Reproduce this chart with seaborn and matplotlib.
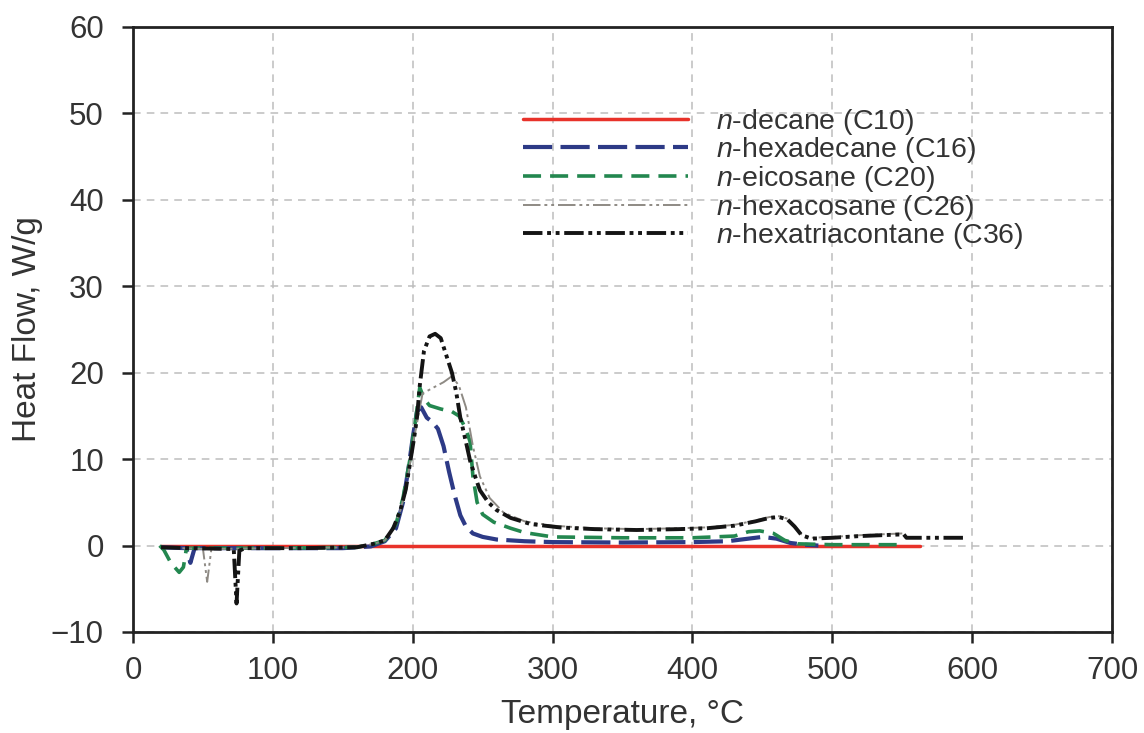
import numpy as np
import pandas as pd
import matplotlib
matplotlib.use("Agg")
import matplotlib.pyplot as plt
import seaborn as sns

# dati (temperatura in °C, flusso termico in W/g)
t_c10 = [20, 563]
h_c10 = [0, 0]

t_c16 = [20, 38, 41, 44, 100, 150, 170, 180, 188, 193, 197, 200, 203, 206, 210, 214, 218, 222, 226,
         230, 234, 238, 243, 250, 260, 280, 300, 350, 400, 425, 440, 450, 460, 470, 480, 490]
h_c16 = [-0.2, -0.3, -2.0, -0.3, -0.3, -0.3, -0.1, 0.5, 2.0, 5.0, 9.0, 12.5, 15.5, 16.0, 14.8, 14.3,
         13.5, 11.5, 8.5, 5.8, 3.5, 2.2, 1.4, 1.0, 0.7, 0.5, 0.4, 0.35, 0.4, 0.5, 0.8, 1.0, 0.8, 0.3,
         0.1, 0.0]

t_c20 = [19, 22, 27, 33, 36, 38, 40, 100, 160, 172, 180, 188, 193, 198, 202, 205, 208, 212, 220, 228,
         233, 238, 241, 243, 246, 250, 258, 270, 280, 300, 350, 400, 430, 440, 448, 458, 466, 475,
         500, 546]
h_c20 = [0.0, -0.5, -2.0, -3.1, -2.5, -0.5, -0.3, -0.3, -0.2, 0.2, 0.6, 2.5, 5.5, 10.0, 14.5, 18.3,
         17.0, 16.2, 15.8, 15.5, 15.0, 13.5, 12.0, 8.0, 5.0, 3.6, 2.7, 2.0, 1.5, 1.0, 0.9, 0.9, 1.1,
         1.6, 1.7, 1.4, 0.6, 0.2, 0.1, 0.1]

t_c26 = [20, 50, 53, 56, 100, 160, 172, 180, 186, 191, 195, 198, 201, 204, 207, 215, 222, 228, 233,
         238, 243, 248, 255, 265, 280, 300, 330, 360, 390, 410, 430, 445, 455, 462, 468, 473, 478,
         485, 500, 520, 550]
h_c26 = [-0.2, -0.4, -4.2, -0.4, -0.3, -0.2, 0.2, 0.6, 2.0, 4.0, 6.5, 9.5, 12.5, 15.0, 17.6, 18.3,
         18.9, 19.6, 18.5, 16.0, 11.5, 8.0, 5.5, 3.8, 2.8, 2.3, 2.0, 1.9, 2.0, 2.1, 2.4, 2.9, 3.3,
         3.4, 3.1, 2.3, 1.3, 0.9, 1.0, 1.2, 1.4]

t_c36 = [20, 40, 72, 74, 76, 80, 120, 160, 172, 180, 186, 191, 195, 198, 201, 203, 205, 208, 212,
         216, 220, 224, 228, 231, 234, 238, 241, 245, 248, 254, 260, 270, 284, 305, 330, 360, 390,
         410, 430, 445, 455, 462, 468, 473, 478, 485, 500, 520, 551, 553, 594]
h_c36 = [-0.2, -0.3, -0.4, -6.7, -0.6, -0.3, -0.3, -0.2, 0.2, 0.6, 2.0, 4.0, 6.5, 9.5, 12.5, 14.8,
         18.5, 22.5, 24.2, 24.5, 24.0, 22.0, 20.0, 17.8, 14.8, 12.0, 9.8, 7.8, 6.4, 5.0, 4.1, 3.2,
         2.5, 2.1, 1.9, 1.8, 1.9, 2.0, 2.3, 2.8, 3.2, 3.3, 3.0, 2.2, 1.2, 0.8, 0.9, 1.1, 1.3, 0.9,
         0.9]

etichette = ["$n$-decane (C10)", "$n$-hexadecane (C16)", "$n$-eicosane (C20)",
             "$n$-hexacosane (C26)", "$n$-hexatriacontane (C36)"]

sns.set_style("ticks")
plt.rcParams["font.family"] = ["Liberation Sans", "DejaVu Sans"]
plt.rcParams["mathtext.fontset"] = "custom"
plt.rcParams["mathtext.it"] = "Liberation Sans:italic"
plt.rcParams["mathtext.rm"] = "Liberation Sans"

fig = plt.figure(figsize=(11.44, 7.33), dpi=100)
ax = fig.add_axes([0.1163, 0.1378, 0.8558, 0.8254])

serie = [
    (t_c10, h_c10, "#e8322a", 2.5, "-"),
    (t_c16, h_c16, "#2d3a86", 3.0, (0, (7, 2))),
    (t_c20, h_c20, "#23874f", 2.6, (0, (5, 2.5))),
    (t_c26, h_c26, "#8e8a84", 1.4, (0, (9, 2, 1.5, 2, 1.5, 2))),
    (t_c36, h_c36, "#141414", 2.8, (0, (5, 1.2, 1, 1.2, 1, 1.2))),
]

for (t, h, col, lw, ls), lab in zip(serie, etichette):
    df = pd.DataFrame({"Temperatura": t, "Flusso": h})
    sns.lineplot(data=df, x="Temperatura", y="Flusso", ax=ax, color=col, lw=lw,
                 linestyle=ls, sort=False, estimator=None, label=lab)

ax.set_xlim(0, 700)
ax.set_ylim(-10, 60)
ax.set_xticks(np.arange(0, 701, 100))
ax.set_yticks(np.arange(-10, 61, 10))
ax.grid(True, color="#bdbdbd", lw=1.1, linestyle=(0, (5, 4)))
ax.set_axisbelow(True)

for s in ax.spines.values():
    s.set_linewidth(2)
    s.set_color("#222222")
ax.tick_params(axis="both", direction="out", length=8, width=1.8, labelsize=22.5,
               colors="#222222", labelcolor="#333333")
ax.tick_params(axis="x", pad=9)
ax.tick_params(axis="y", pad=13)

ax.set_xlabel("Temperature, °C", fontsize=24, color="#333333", labelpad=10)
ax.set_ylabel("Heat Flow, W/g", fontsize=24, color="#333333", labelpad=6)

ax.legend(loc="upper left", bbox_to_anchor=(0.398, 0.868), frameon=False, fontsize=20.5,
          handlelength=5.8, handletextpad=1.0, labelspacing=-0.05, borderpad=0,
          borderaxespad=0)
for txt in ax.get_legend().get_texts():
    txt.set_color("#333333")

fig.savefig("out.png", dpi=100)
